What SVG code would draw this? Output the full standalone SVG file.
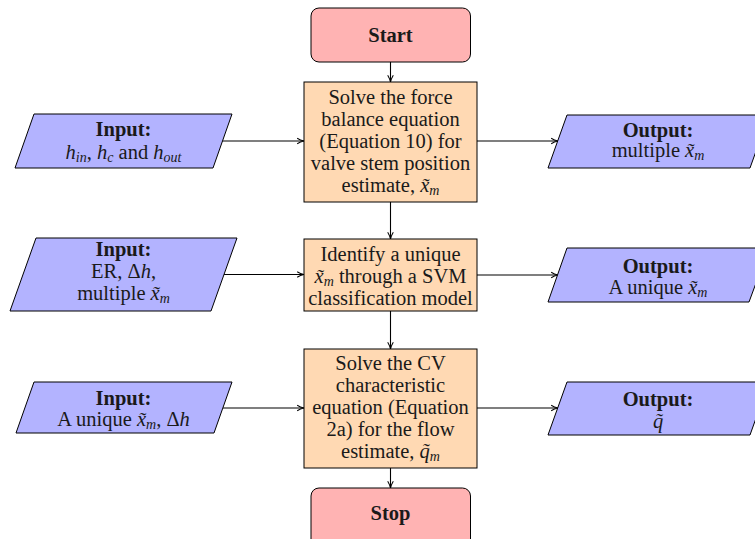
<svg xmlns="http://www.w3.org/2000/svg" width="755" height="539" viewBox="0 0 755 539">
  <defs>
    <marker id="arr" viewBox="0 0 10 10" refX="9.5" refY="5" markerWidth="8" markerHeight="8" markerUnits="userSpaceOnUse" orient="auto">
      <path d="M1,1.5 Q5,4 9.5,5 Q5,6 1,8.5" fill="none" stroke="#000" stroke-width="1.3"/>
    </marker>
    <style>
      .term { fill: #ffb3b3; stroke: #000; stroke-width: 1; }
      .proc { fill: #ffd9b3; stroke: #000; stroke-width: 1; }
      .io { fill: #b3b3ff; stroke: #000; stroke-width: 1; }
      text { font-family: "Liberation Serif", "Times New Roman", serif; font-size: 20.5px; fill: #1a1a1a; text-anchor: middle; }
      .b { font-weight: bold; }
      .m { font-style: italic; }
      .s { font-style: italic; font-size: 14px; }
      .edge { stroke: #000; stroke-width: 1.1; fill: none; marker-end: url(#arr); }
    </style>
  </defs>

  <!-- connectors -->
  <g id="connectors">
    <line class="edge" x1="390.5" y1="62" x2="390.5" y2="82"/>
    <line class="edge" x1="390.5" y1="202" x2="390.5" y2="239"/>
    <line class="edge" x1="390.5" y1="311" x2="390.5" y2="349"/>
    <line class="edge" x1="390.5" y1="468" x2="390.5" y2="488"/>
    <line class="edge" x1="222" y1="141" x2="304" y2="141"/>
    <line class="edge" x1="224" y1="274.5" x2="304" y2="274.5"/>
    <line class="edge" x1="223" y1="408" x2="304" y2="408"/>
    <line class="edge" x1="477" y1="141" x2="558" y2="141"/>
    <line class="edge" x1="477" y1="275" x2="558" y2="275"/>
    <line class="edge" x1="477" y1="408" x2="558" y2="408"/>
  </g>

  <!-- terminals -->
  <g id="start">
    <rect class="term" x="311" y="8" width="159.5" height="54" rx="8"/>
    <text class="b" x="390.5" y="42">Start</text>
  </g>
  <g id="stop">
    <rect class="term" x="311" y="488" width="159.5" height="62" rx="8"/>
    <text class="b" x="390.5" y="520">Stop</text>
  </g>

  <!-- processes -->
  <g id="solve-force">
    <rect class="proc" x="304" y="82" width="173" height="120"/>
    <text x="390.5" y="104">Solve the force</text>
    <text x="390.5" y="126">balance equation</text>
    <text x="390.5" y="148">(Equation 10) for</text>
    <text x="390.5" y="170">valve stem position</text>
    <text x="390.5" y="192">estimate, <tspan class="m">x̃</tspan><tspan class="s" dy="3">m</tspan></text>
  </g>
  <g id="identify">
    <rect class="proc" x="304" y="239" width="173" height="72"/>
    <text x="390.5" y="261">Identify a unique</text>
    <text x="390.5" y="283"><tspan class="m">x̃</tspan><tspan class="s" dy="3">m</tspan><tspan dy="-3"> through a SVM</tspan></text>
    <text x="390.5" y="305">classification model</text>
  </g>
  <g id="solve-cv">
    <rect class="proc" x="304" y="349" width="173" height="119"/>
    <text x="390.5" y="370">Solve the CV</text>
    <text x="390.5" y="392">characteristic</text>
    <text x="390.5" y="414">equation (Equation</text>
    <text x="390.5" y="436">2a) for the flow</text>
    <text x="390.5" y="458">estimate, <tspan class="m">q̃</tspan><tspan class="s" dy="3">m</tspan></text>
  </g>

  <!-- inputs -->
  <g id="input-1">
    <polygon class="io" points="34,114 232,114 213,168 15,168"/>
    <text class="b" x="123.5" y="136">Input:</text>
    <text x="123.5" y="159"><tspan class="m">h</tspan><tspan class="s" dy="3">in</tspan><tspan dy="-3">, </tspan><tspan class="m">h</tspan><tspan class="s" dy="3">c</tspan><tspan dy="-3"> and </tspan><tspan class="m">h</tspan><tspan class="s" dy="3">out</tspan></text>
  </g>
  <g id="input-2">
    <polygon class="io" points="36,238 237,238 211,311 10,311"/>
    <text class="b" x="123.5" y="256">Input:</text>
    <text x="123.5" y="278">ER, Δ<tspan class="m">h</tspan>,</text>
    <text x="123.5" y="300">multiple <tspan class="m">x̃</tspan><tspan class="s" dy="3">m</tspan></text>
  </g>
  <g id="input-3">
    <polygon class="io" points="34,382 232,382 214,433 16,433"/>
    <text class="b" x="123.5" y="405">Input:</text>
    <text x="123.5" y="426">A unique <tspan class="m">x̃</tspan><tspan class="s" dy="3">m</tspan><tspan dy="-3">, Δ</tspan><tspan class="m">h</tspan></text>
  </g>

  <!-- outputs -->
  <g id="output-1">
    <polygon class="io" points="567,115 769,115 750,168 548,168"/>
    <text class="b" x="658" y="137">Output:</text>
    <text x="658" y="157">multiple <tspan class="m">x̃</tspan><tspan class="s" dy="3">m</tspan></text>
  </g>
  <g id="output-2">
    <polygon class="io" points="567,248 769,248 749,302 548,302"/>
    <text class="b" x="658" y="273">Output:</text>
    <text x="658" y="294">A unique <tspan class="m">x̃</tspan><tspan class="s" dy="3">m</tspan></text>
  </g>
  <g id="output-3">
    <polygon class="io" points="567,382 769,382 750,435 548,435"/>
    <text class="b" x="658" y="406">Output:</text>
    <text x="658" y="428"><tspan class="m">q̃</tspan></text>
  </g>
</svg>
